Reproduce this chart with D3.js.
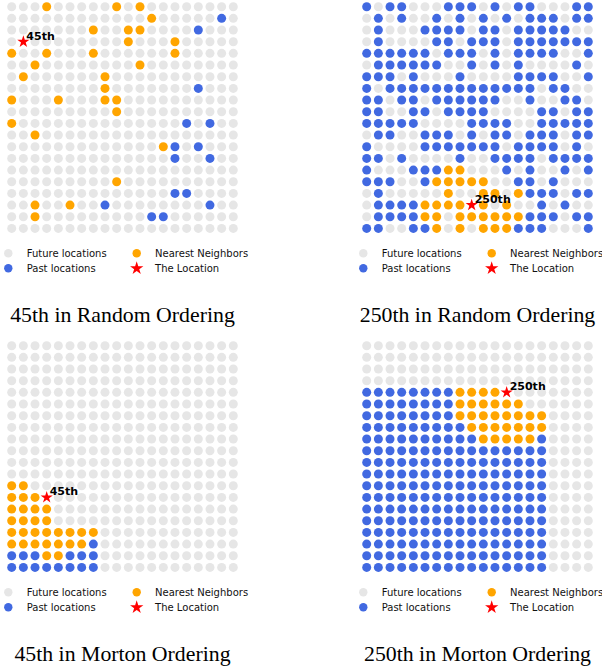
<!DOCTYPE html>
<html>
<head>
<meta charset="utf-8">
<script src="https://cdn.jsdelivr.net/npm/d3@7"></script>
<style>
  body { margin: 0; background: #fff; }
  svg { display: block; }
</style>
</head>
<body>
<div id="chart"></div>
<script>
// grid cells, top row first, left column first
// "." future location, "b" past location, "o" nearest neighbor, "*" the location
const randomRows45 = [
    "...o.....o.o........",
    "............o.....b.",
    ".......o..oo....b...",
    ".*........o...o.....",
    "o..o...o......o.....",
    "..o........o........",
    ".o......o...........",
    "........o.......b...",
    "o...o...oo..........",
    ".........o..........",
    "o..............b.b..",
    "..o.................",
    ".............ob.b...",
    "..............b..b..",
    "....................",
    ".........o..........",
    "..............bb....",
    "..o..o..b........b..",
    "..o.........bb......",
    "...................."
];

const randomRows250 = [
    "b.bb...bbb.b.bb...bb",
    ".b.b..b.b.b.b.bbb.bb",
    ".b...bbbb.bb.bbbbb..",
    ".b....bb.bbb.bbbbbbb",
    "bbbbbb.bbb.b.bbbb..b",
    ".bbbbbb..b.b.b....b.",
    "bbb.b...b....bbbb..b",
    "b.bbbbbbbbbbbbb.bb..",
    "bb.bb.bbbbbb..b..bb.",
    "bb..bb.bbbb....bb.bb",
    "bbbbb....bbbb..bbbbb",
    ".bb..bbb.b.bb.bbb.bb",
    "b....bbbbbbb.bbbb.b.",
    "bb.b....b..bbbb.bbbb",
    "b...bbboo...b.b..b.b",
    "bbb..booooo..bb.b...",
    ".b.....o..oo.obbb.bb",
    ".bbbboooo*o.o..b.b..",
    ".bbbboo.oooooobbb.bb",
    "bb..bbo.o.ooobbb...b"
];

const mortonRows45 = [
    "....................",
    "....................",
    "....................",
    "....................",
    "....................",
    "....................",
    "....................",
    "....................",
    "....................",
    "....................",
    "....................",
    "....................",
    "oo..................",
    "ooo*................",
    "oooo................",
    "oooo................",
    "oooooooo............",
    "ooooooob............",
    "bbboobbb............",
    "bbbbbbbb............"
];

const mortonRows250 = [
    "....................",
    "....................",
    "....................",
    "....................",
    "bbbbbbbboooo*.......",
    "bbbbbbbboooooo......",
    "bbbbbbbboooooooo....",
    "bbbbbbbbbooooooo....",
    "bbbbbbbbbbooooob....",
    "bbbbbbbbbbbbbbbb....",
    "bbbbbbbbbbbbbbbb....",
    "bbbbbbbbbbbbbbbb....",
    "bbbbbbbbbbbbbbbb....",
    "bbbbbbbbbbbbbbbb....",
    "bbbbbbbbbbbbbbbb....",
    "bbbbbbbbbbbbbbbb....",
    "bbbbbbbbbbbbbbbb....",
    "bbbbbbbbbbbbbbbb....",
    "bbbbbbbbbbbbbbbb....",
    "bbbbbbbbbbbbbbbb...."
];

const starLabels = ["45th", "250th", "45th", "250th"];
const titles = [
    "45th in Random Ordering",
    "250th in Random Ordering",
    "45th in Morton Ordering",
    "250th in Morton Ordering"
];
const legendLabels = ["Future locations", "Past locations", "Nearest Neighbors", "The Location"];

const width = 602, height = 668;
const colors = { ".": "#e6e6e6", "b": "#4169e1", "o": "#ffa500", "*": "#ff0000" };

const panels = [
    { rows: randomRows45, label: starLabels[0], title: titles[0], x: 0, y: 0 },
    { rows: randomRows250, label: starLabels[1], title: titles[1], x: 355, y: 0 },
    { rows: mortonRows45, label: starLabels[2], title: titles[2], x: 0, y: 339 },
    { rows: mortonRows250, label: starLabels[3], title: titles[3], x: 355, y: 339 }
];

const svg = d3.select("#chart")
    .append("svg")
    .attr("width", width)
    .attr("height", height);

// column and row positions inside one panel
const xScale = d3.scalePoint().domain(d3.range(20)).range([11.7, 233.3]);
const yScale = d3.scalePoint().domain(d3.range(20)).range([6.7, 228.4]);

const star = d3.symbol().type(d3.symbolStar).size(46);

panels.forEach(function (p) {
    const g = svg.append("g").attr("transform", "translate(" + p.x + "," + p.y + ")");

    // flatten the row strings into cells
    const cells = [];
    p.rows.forEach(function (row, r) {
        row.split("").forEach(function (ch, c) {
            cells.push({ row: r, col: c, kind: ch });
        });
    });

    g.selectAll("circle.cell")
        .data(cells.filter(d => d.kind !== "*"))
        .enter()
        .append("circle")
        .attr("class", "cell")
        .attr("cx", d => xScale(d.col))
        .attr("cy", d => yScale(d.row))
        .attr("r", 4.5)
        .attr("fill", d => colors[d.kind]);

    const s = cells.find(d => d.kind === "*");
    g.append("path")
        .attr("d", star)
        .attr("transform", "translate(" + xScale(s.col) + "," + yScale(s.row) + ")")
        .attr("fill", colors["*"]);
    g.append("text")
        .attr("x", xScale(s.col) + 3)
        .attr("y", yScale(s.row) - 2)
        .text(p.label)
        .style("font-family", "DejaVu Sans")
        .style("font-weight", "bold")
        .style("font-size", "11px")
        .attr("fill", "#000");

    // legend
    const legend = [
        { kind: ".", x: 8.3, y: 253.3, text: legendLabels[0] },
        { kind: "b", x: 8.3, y: 268.3, text: legendLabels[1] },
        { kind: "o", x: 136.7, y: 253.3, text: legendLabels[2] },
        { kind: "*", x: 136.7, y: 268.3, text: legendLabels[3] }
    ];
    legend.forEach(function (l) {
        if (l.kind === "*") {
            g.append("path")
                .attr("d", d3.symbol().type(d3.symbolStar).size(55))
                .attr("transform", "translate(" + l.x + "," + l.y + ")")
                .attr("fill", colors["*"]);
        } else {
            g.append("circle").attr("cx", l.x).attr("cy", l.y).attr("r", 4.2).attr("fill", colors[l.kind]);
        }
        g.append("text")
            .attr("x", l.x + 18.4)
            .attr("y", l.y)
            .attr("dy", "0.35em")
            .text(l.text)
            .style("font-family", "DejaVu Sans")
            .style("font-size", "10px")
            .attr("fill", "#111");
    });

    // caption
    g.append("text")
        .attr("x", 122.5)
        .attr("y", 321.5)
        .attr("text-anchor", "middle")
        .text(p.title)
        .style("font-family", "Liberation Serif")
        .style("font-size", "21.8px")
        .attr("fill", "#000");
});
</script>
</body>
</html>
